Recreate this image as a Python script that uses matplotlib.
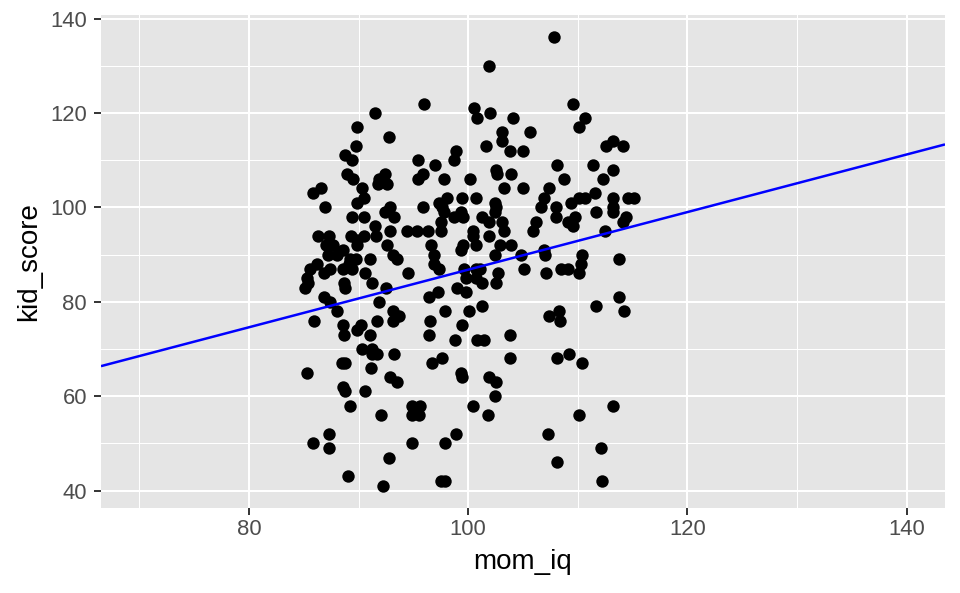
import matplotlib
matplotlib.use("Agg")
import matplotlib.pyplot as plt
from matplotlib.ticker import FixedLocator

# ---- data ----
mom_iq = [
    96.0, 100.5, 91.5, 89.9, 92.8, 89.8, 88.8, 89.4, 95.4, 97.0,
    98.9, 98.7, 88.9, 89.5, 92.4, 91.9, 92.6, 91.8, 95.4, 95.9,
    97.8, 100.2, 86.6, 85.8, 90.3, 90.5, 89.9, 86.9, 89.4, 90.5,
    92.4, 92.9, 93.2, 95.9, 97.3, 98.1, 97.6, 97.8, 97.5, 99.4,
    99.3, 98.7, 99.5, 91.5, 91.6, 92.9, 94.4, 95.3, 96.3, 97.5,
    86.3, 87.3, 89.3, 90.5, 89.9, 87.0, 87.7, 88.6, 87.2, 88.0,
    89.9, 92.6, 93.1, 93.5, 96.6, 96.9, 96.9, 97.3, 99.5, 99.3,
    89.2, 89.8, 89.1, 89.4, 88.6, 91.0, 86.2, 85.6, 85.3, 85.4,
    85.1, 86.8, 87.4, 90.6, 91.2, 88.7, 88.8, 94.5, 92.5, 99.6,
    99.8, 107.8, 101.9, 100.8, 102.0, 104.1, 103.1, 103.1, 105.6, 101.6,
    103.8, 105.0, 109.6, 110.7, 110.1, 112.6, 113.2, 114.1, 102.5, 102.6,
    103.9, 103.3, 105.0, 108.1, 108.7, 111.4, 113.2, 112.3, 107.4, 106.9,
    106.6, 108.0, 108.0, 109.4, 110.1, 110.7, 111.6, 111.7, 113.2, 113.2,
    113.2, 114.6, 115.1, 114.4, 114.1, 112.5, 109.7, 109.1, 109.6, 106.2,
    105.9, 100.7, 102.4, 102.5, 102.4, 101.3, 101.9, 103.1, 103.3, 100.4,
    100.4, 101.9, 100.7, 102.9, 103.9, 102.4, 104.8, 106.9, 107.0, 110.4,
    110.3, 110.1, 113.8, 105.1, 107.1, 108.5, 109.1, 102.7, 100.7, 101.1,
    100.7, 101.3, 102.5, 86.8, 87.4, 91.9, 88.0, 85.9, 88.6, 88.7,
    89.9, 90.2, 91.0, 91.7, 93.1, 93.1, 93.7, 96.4, 97.2, 96.5,
    96.4, 97.9, 99.4, 98.8, 100.1, 99.0, 99.8, 90.3, 91.2, 91.2,
    91.7, 93.2, 88.5, 88.8, 85.3, 91.1, 92.9, 93.5, 96.7, 97.6,
    99.3, 99.4, 88.6, 88.8, 90.6, 89.2, 92.0, 94.9, 95.6, 94.9,
    95.5, 100.4, 87.3, 85.8, 87.3, 94.9, 97.9, 98.9, 92.8, 89.0,
    92.2, 97.5, 97.9, 101.3, 100.8, 101.4, 103.8, 103.8, 107.4, 108.3,
    108.4, 111.7, 113.8, 114.2, 108.1, 109.2, 110.4, 101.9, 102.5, 102.4,
    101.8, 110.1, 113.2, 107.3, 112.1, 108.1, 112.2,
]
kid_score = [
    122, 121, 120, 117, 115, 113, 111, 110, 110, 109,
    112, 110, 107, 106, 107, 106, 105, 105, 106, 107,
    106, 106, 104, 103, 104, 102, 101, 100, 98, 98,
    99, 100, 98, 100, 101, 102, 100, 99, 97, 102,
    99, 98, 98, 96, 94, 95, 95, 95, 95, 95,
    94, 94, 94, 94, 93, 92, 92, 91, 90, 90,
    92, 92, 90, 89, 92, 90, 88, 87, 92, 91,
    89, 89, 88, 87, 87, 89, 88, 87, 85, 84,
    83, 86, 87, 86, 84, 84, 83, 86, 83, 87,
    85, 136, 130, 119, 120, 119, 116, 114, 116, 113,
    112, 112, 122, 119, 117, 113, 114, 113, 108, 107,
    107, 104, 104, 109, 106, 109, 108, 106, 104, 102,
    100, 100, 98, 101, 102, 102, 103, 99, 102, 100,
    99, 102, 102, 98, 97, 95, 98, 97, 96, 97,
    95, 102, 101, 100, 99, 98, 97, 97, 95, 95,
    94, 94, 92, 92, 92, 90, 90, 91, 90, 90,
    88, 86, 89, 87, 86, 87, 87, 86, 87, 87,
    85, 84, 84, 81, 80, 80, 78, 76, 75, 73,
    74, 75, 73, 76, 78, 76, 77, 81, 82, 76,
    73, 78, 75, 72, 78, 83, 82, 70, 70, 69,
    69, 69, 67, 67, 65, 66, 64, 63, 67, 68,
    65, 64, 62, 61, 61, 58, 56, 58, 58, 56,
    56, 58, 52, 50, 49, 50, 50, 52, 47, 43,
    41, 42, 42, 79, 72, 72, 73, 68, 77, 78,
    76, 79, 81, 78, 68, 69, 67, 64, 63, 60,
    56, 56, 58, 52, 49, 46, 42,
]

# regression line (abline)
line_intercept = 25.8
line_slope = 0.61

x_major = [80, 100, 120, 140]
x_minor = [70, 90, 110, 130]
y_major = [40, 60, 80, 100, 120, 140]
y_minor = [50, 70, 90, 110, 130]
x_lim = (66.5, 143.5)
y_lim = (36.25, 140.75)

# ---- figure ----
plt.rcParams['font.family'] = ['Liberation Sans', 'DejaVu Sans']
fig = plt.figure(figsize=(9.6, 5.93), dpi=100)
ax = fig.add_axes([101 / 960, 1 - 508.3 / 593, (945 - 101) / 960, (508.3 - 15) / 593])

ax.set_facecolor('#E5E5E5')
for s in ax.spines.values():
    s.set_visible(False)

ax.set_xlim(*x_lim)
ax.set_ylim(*y_lim)
ax.xaxis.set_major_locator(FixedLocator(x_major))
ax.xaxis.set_minor_locator(FixedLocator(x_minor))
ax.yaxis.set_major_locator(FixedLocator(y_major))
ax.yaxis.set_minor_locator(FixedLocator(y_minor))

ax.grid(which='major', color='white', linewidth=1.45, zorder=0)
ax.grid(which='minor', color='white', linewidth=0.72, zorder=0)
ax.set_axisbelow(True)

ax.tick_params(which='major', length=4.8, width=1.4, color='#333333',
               labelsize=15.8, labelcolor='#4D4D4D')
ax.tick_params(axis='y', which='major', pad=5.2)
ax.tick_params(axis='x', which='major', pad=3.2)
ax.tick_params(which='minor', length=0)

ax.scatter(mom_iq, kid_score, s=80, color='black', linewidths=0, zorder=2)

xs = list(x_lim)
ax.plot(xs, [line_intercept + line_slope * v for v in xs], color='#0000FF',
        linewidth=1.8, zorder=3, solid_capstyle='butt')

ax.set_xlabel('mom_iq', fontsize=20, color='black', labelpad=6)
ax.set_ylabel('kid_score', fontsize=20, color='black', labelpad=6)

fig.savefig('out.png', dpi=100)
